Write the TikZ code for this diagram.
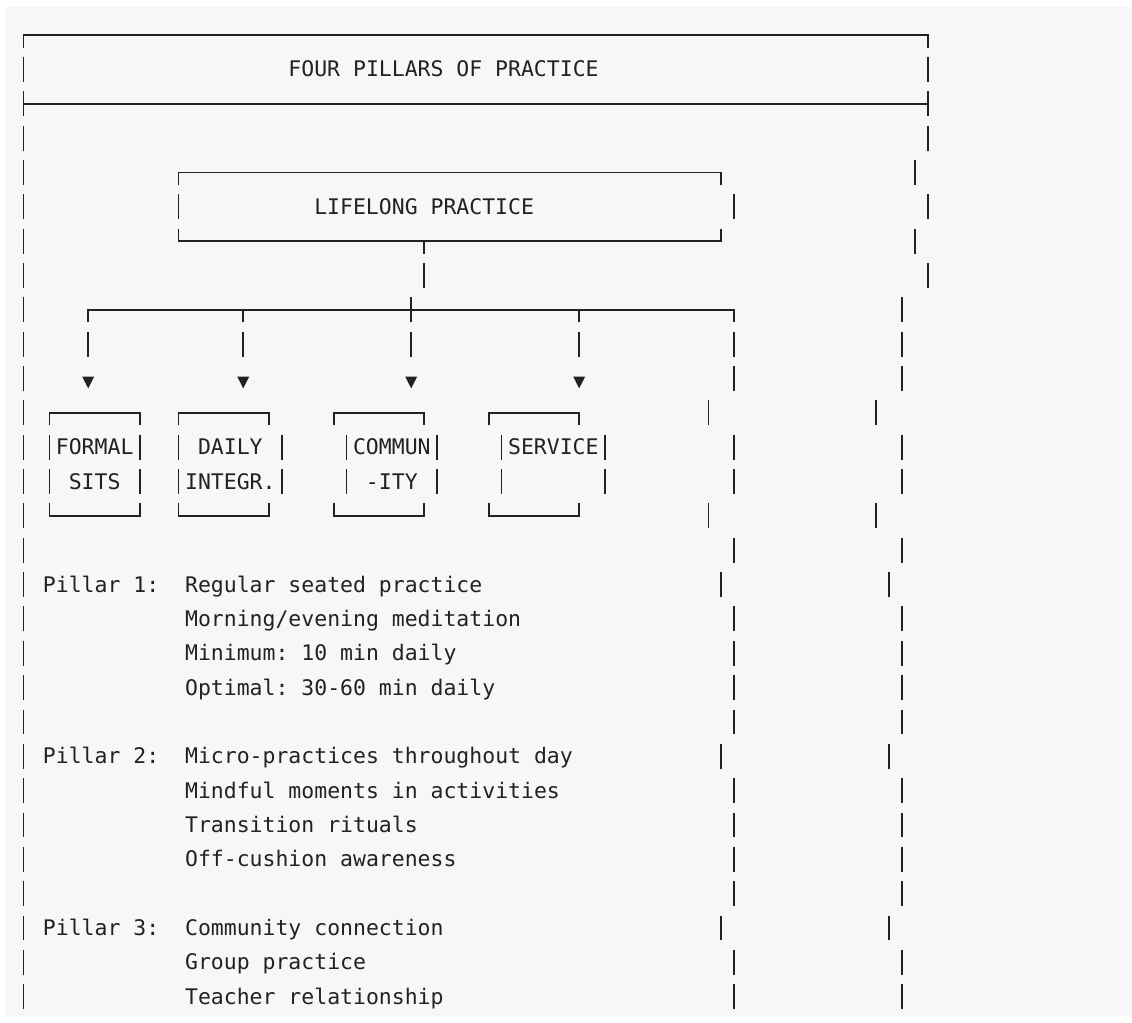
\documentclass[tikz,border=0pt]{standalone}
\usepackage{fontspec}
\newfontfamily\codefont{DejaVu Sans Mono}
\definecolor{ink}{HTML}{222222}
\definecolor{panel}{HTML}{F7F7F7}
\tikzset{
  glyph/.style={draw=ink, line width=1.25pt, line cap=butt, line join=miter},
  txt/.style={anchor=base west, inner sep=0pt, outer sep=0pt, text=ink,
    font=\codefont\fontsize{16.1pt}{19pt}\selectfont\frenchspacing},
  tip/.style={fill=ink, draw=none}
}
% a vertical bar one text row high, in column #1 of row #2
\newcommand\vbar[2]{\draw[glyph] (#1,#2-0.358) -- (#1,#2+0.367);}

\begin{document}
\begin{tikzpicture}[x=0.75pt,y=-0.75pt]
\useasboundingbox (0,0) rectangle (1132,1023);
\fill[panel, rounded corners=3pt] (5,7) rectangle (1140,1016);

% character grid: x = column, y = row
\begin{scope}[shift={(23.6,35)}, x=9.69pt, y=-25.755pt]

% title box
\draw[glyph] (0,0.367) -- (0,0) -- (70,0) -- (70,0.367);
\draw[glyph] (0,1.642) -- (0,2.367);
\draw[glyph] (70,1.642) -- (70,2.367);
\draw[glyph] (0,2) -- (70,2);
\node[txt] (title) at (20.5,1.221) {FOUR PILLARS OF PRACTICE};

% outer left border
\vbar{0}{1}
\foreach \r in {3,...,28} {\vbar{0}{\r}}

% outer right border
\foreach \c/\r in {70/1,70/3,69/4,70/5,69/6,70/7,68/8,68/9,68/10,66/11,68/12,68/13,
  66/14,68/15,67/16,68/17,68/18,68/19,68/20,67/21,68/22,68/23,68/24,68/25,67/26,
  68/27,68/28} {\vbar{\c}{\r}}

% inner right column
\foreach \c/\r in {55/9,55/10,53/11,55/12,55/13,53/14,55/15,54/16,55/17,55/18,
  55/19,55/20,54/21,55/22,55/23,55/24,55/25,54/26,55/27,55/28} {\vbar{\c}{\r}}

% central box
\draw[glyph] (12,4.367) -- (12,4) -- (54,4) -- (54,4.367);
\vbar{12}{5}
\vbar{55}{5}
\draw[glyph] (12,5.642) -- (12,6) -- (54,6) -- (54,5.642);
\node[txt] (lifelong) at (22.5,5.221) {LIFELONG PRACTICE};

% stem and branch line
\draw[glyph] (31,6) -- (31,6.367);
\vbar{31}{7}
\draw[glyph] (5,8.367) -- (5,8) -- (55,8) -- (55,8.367);
\draw[glyph] (17,8) -- (17,8.367);
\draw[glyph] (30,7.642) -- (30,8.367);
\draw[glyph] (43,8) -- (43,8.367);
\foreach \c in {5,17,30,43} {
  \vbar{\c}{9}
  \fill[tip] (\c-0.46,9.95) -- (\c+0.46,9.95) -- (\c,10.29) -- cycle;
}

% the four pillar boxes
\foreach \ea/\eb/\fa/\fb in {2/9/2/9, 12/19/12/20, 24/31/25/32, 36/43/37/45} {
  \draw[glyph] (\ea,11.367) -- (\ea,11) -- (\eb,11) -- (\eb,11.367);
  \vbar{\fa}{12} \vbar{\fa}{13} \vbar{\fb}{12} \vbar{\fb}{13}
  \draw[glyph] (\ea,13.642) -- (\ea,14) -- (\eb,14) -- (\eb,13.642);
}
\node[txt] (formal)  at (2.5,12.221)  {FORMAL};
\node[txt] (sits)    at (3.5,13.221)  {SITS};
\node[txt] (daily)   at (13.5,12.221) {DAILY};
\node[txt] (integr)  at (12.5,13.221) {INTEGR.};
\node[txt] (commun)  at (25.5,12.221) {COMMUN};
\node[txt] (ity)     at (26.5,13.221) {-ITY};
\node[txt] (service) at (37.5,12.221) {SERVICE};

% pillar descriptions
\node[txt] (p1)  at (1.5,16.221)  {Pillar 1:};
\node[txt] (p1a) at (12.5,16.221) {Regular seated practice};
\node[txt] (p1b) at (12.5,17.221) {Morning/evening meditation};
\node[txt] (p1c) at (12.5,18.221) {Minimum: 10 min daily};
\node[txt] (p1d) at (12.5,19.221) {Optimal: 30-60 min daily};
\node[txt] (p2)  at (1.5,21.221)  {Pillar 2:};
\node[txt] (p2a) at (12.5,21.221) {Micro-practices throughout day};
\node[txt] (p2b) at (12.5,22.221) {Mindful moments in activities};
\node[txt] (p2c) at (12.5,23.221) {Transition rituals};
\node[txt] (p2d) at (12.5,24.221) {Off-cushion awareness};
\node[txt] (p3)  at (1.5,26.221)  {Pillar 3:};
\node[txt] (p3a) at (12.5,26.221) {Community connection};
\node[txt] (p3b) at (12.5,27.221) {Group practice};
\node[txt] (p3c) at (12.5,28.221) {Teacher relationship};

\end{scope}
\end{tikzpicture}
\end{document}
